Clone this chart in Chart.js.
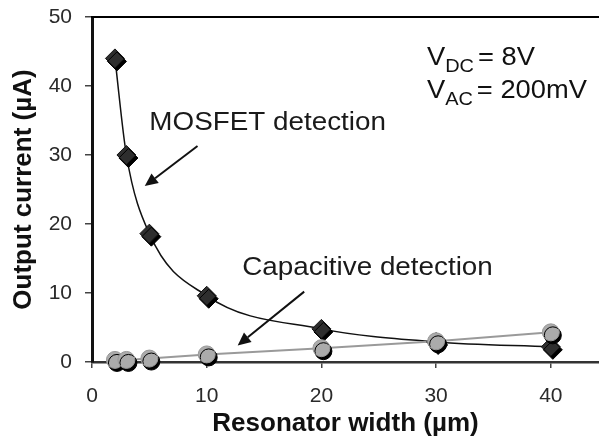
<!DOCTYPE html>
<html><head><meta charset="utf-8">
<script src="https://cdn.jsdelivr.net/npm/chart.js@4"></script>
<style>html,body{margin:0;padding:0;background:#fff;overflow:hidden}</style>
</head><body>
<canvas id="c" width="599" height="441"></canvas>
<script>
// ---- data ----
const widths = [2, 3, 5, 10, 20, 30, 40];
const mosfetCurrent = [44, 30, 18.6, 9.6, 4.8, 2.9, 2.2];
const capacitiveCurrent = [0.3, 0.3, 0.5, 1.1, 2.0, 3.0, 4.3];
const xTickValues = [0, 10, 20, 30, 40];
const yTickValues = [0, 10, 20, 30, 40, 50];
const xTitle = 'Resonator width (µm)';
const yTitle = 'Output current (µA)';
const labelMosfet = 'MOSFET detection';
const labelCap = 'Capacitive detection';

const pts = (ys) => widths.map((x, i) => ({x, y: ys[i]}));
const FONT = '"Liberation Sans", Arial, Helvetica, sans-serif';

const shadowPlugin = {
  id: 'shadow',
  beforeDatasetDraw(chart, args) {
    const ds = chart.data.datasets[args.index];
    chart.ctx.save();
    if (ds.shadow) {
      chart.ctx.shadowColor = 'rgba(0,0,0,1)';
      chart.ctx.shadowOffsetX = 2;
      chart.ctx.shadowOffsetY = 3;
      chart.ctx.shadowBlur = 0;
    }
  },
  afterDatasetDraw(chart) { chart.ctx.restore(); }
};

const framePlugin = {
  id: 'frame',
  afterDraw(chart) {
    const {ctx, chartArea} = chart;
    ctx.save();
    ctx.strokeStyle = '#000';
    ctx.lineWidth = 2;
    ctx.beginPath();
    ctx.moveTo(chartArea.left - 1, chartArea.top);
    ctx.lineTo(chartArea.right, chartArea.top);
    ctx.stroke();
    ctx.restore();
  }
};

function arrow(ctx, x1, y1, x2, y2) {
  const a = Math.atan2(y2 - y1, x2 - x1);
  const L = 13, W = 6;
  const bx = x2 - L * Math.cos(a), by = y2 - L * Math.sin(a);
  ctx.beginPath();
  ctx.moveTo(x1, y1); ctx.lineTo(bx, by);
  ctx.lineWidth = 2; ctx.strokeStyle = '#111'; ctx.stroke();
  ctx.beginPath();
  ctx.moveTo(x2, y2);
  ctx.lineTo(bx + W * Math.sin(a), by - W * Math.cos(a));
  ctx.lineTo(bx - W * Math.sin(a), by + W * Math.cos(a));
  ctx.closePath(); ctx.fillStyle = '#111'; ctx.fill();
}

function stretchText(ctx, text, x, y, sx) {
  ctx.save();
  ctx.translate(x, y);
  ctx.scale(sx, 1);
  ctx.fillText(text, 0, 0);
  ctx.restore();
  return ctx.measureText(text).width * sx;
}

const annoPlugin = {
  id: 'anno',
  afterDraw(chart) {
    const {ctx} = chart;
    const X = v => chart.scales.x.getPixelForValue(v);
    const Y = v => chart.scales.y.getPixelForValue(v);
    ctx.save();
    ctx.fillStyle = '#1a1a1a';
    ctx.textBaseline = 'alphabetic';
    ctx.textAlign = 'left';
    ctx.font = '26px ' + FONT;
    stretchText(ctx, labelMosfet, X(5.0), Y(33.6), 1.07);
    stretchText(ctx, labelCap, X(13.1), Y(12.6), 1.07);
    arrow(ctx, X(9.2), Y(31.3), X(4.6), Y(25.5));
    arrow(ctx, X(18.5), Y(10.2), X(12.7), Y(2.4));
    // V_DC and V_AC
    const drawV = (sub, rest, xv, yv) => {
      let x = X(xv); const y = Y(yv);
      ctx.font = '26px ' + FONT;
      x += stretchText(ctx, 'V', x, y, 1.05);
      ctx.font = '19px ' + FONT;
      x += stretchText(ctx, sub, x, y + 7, 1.05) + 4;
      ctx.font = '26px ' + FONT;
      stretchText(ctx, rest, x, y, 1.05);
    };
    drawV('DC', '= 8V', 29.2, 43.0);
    drawV('AC', '= 200mV', 29.2, 38.2);
    ctx.restore();
  }
};

new Chart(document.getElementById('c'), {
  type: 'scatter',
  data: {
    datasets: [
      { label: 'MOSFET line', data: pts(mosfetCurrent), showLine: true,
        cubicInterpolationMode: 'monotone', borderColor: '#111', borderWidth: 1.5,
        pointRadius: 0, order: 4, clip: false },
      { label: 'Capacitive line', data: pts(capacitiveCurrent), showLine: true,
        tension: 0, borderColor: '#9a9a9a', borderWidth: 2,
        pointRadius: 0, order: 3, clip: false },
      { label: 'MOSFET detection', data: pts(mosfetCurrent), showLine: false,
        pointStyle: 'rectRot', pointRadius: 9.5, backgroundColor: '#2e2e2e',
        borderColor: '#111', borderWidth: 1, order: 2, clip: false, shadow: true },
      { label: 'Capacitive detection', data: pts(capacitiveCurrent), showLine: false,
        pointStyle: 'circle', pointRadius: 8.5, backgroundColor: '#ababab',
        borderColor: '#999', borderWidth: 1, order: 1, clip: false, shadow: true }
    ]
  },
  options: {
    responsive: false,
    animation: false,
    devicePixelRatio: 1,
    layout: { autoPadding: false, padding: { top: 17, right: 0, left: 0, bottom: 0 } },
    plugins: { legend: { display: false }, tooltip: { enabled: false } },
    scales: {
      x: {
        type: 'linear', min: 0, max: 44.2,
        afterFit(s) { s.height = 79; s.paddingLeft = 0; s.paddingRight = 0; },
        afterBuildTicks(s) { s.ticks = xTickValues.map(v => ({value: v})); },
        grid: { display: true, drawOnChartArea: false, drawTicks: true, tickLength: 6, color: '#444', lineWidth: 1.5 },
        border: { display: true, color: '#333', width: 2.5 },
        ticks: { color: '#2a2a2a', padding: 16, font: { family: FONT, size: 21 } },
        title: { display: true, text: xTitle, color: '#111', padding: { top: 0, bottom: 2 },
          font: { family: FONT, size: 26, weight: 'bold' } }
      },
      y: {
        type: 'linear', min: 0, max: 50,
        afterFit(s) { s.width = 92; s.paddingTop = 0; s.paddingBottom = 0; },
        afterBuildTicks(s) { s.ticks = yTickValues.map(v => ({value: v})); },
        grid: { display: true, drawOnChartArea: false, drawTicks: true, tickLength: 7, color: '#444', lineWidth: 1.5 },
        border: { display: true, color: '#111', width: 3 },
        ticks: { color: '#2a2a2a', padding: 13, font: { family: FONT, size: 21 } },
        title: { display: true, text: yTitle, color: '#111', padding: { top: 8, bottom: 0 },
          font: { family: FONT, size: 26, weight: 'bold' } }
      }
    }
  },
  plugins: [shadowPlugin, framePlugin, annoPlugin]
});
</script>
</body></html>
